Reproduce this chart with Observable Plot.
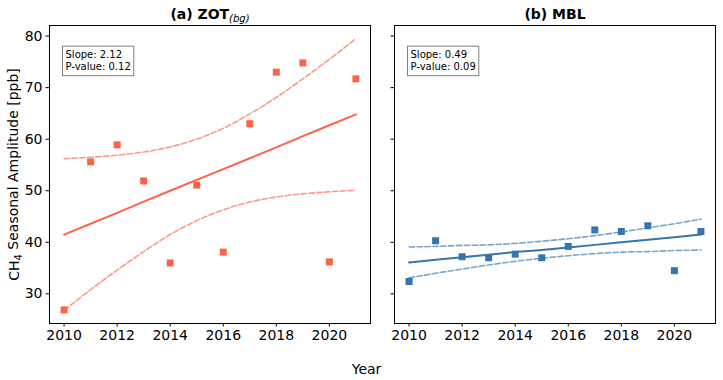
<!DOCTYPE html>
<html>
<head>
<meta charset="utf-8">
<script src="https://cdn.jsdelivr.net/npm/d3@7"></script>
<script src="https://cdn.jsdelivr.net/npm/@observablehq/plot@0.6"></script>
<style>
  body { margin: 0; background: white; }
  #wrap { display: flex; width: 723px; height: 380px; background: white; }
  svg { overflow: visible; }
</style>
</head>
<body>
<div id="wrap"></div>
<script>
// ---- data ----
const years = [2010, 2011, 2012, 2013, 2014, 2015, 2016, 2017, 2018, 2019, 2020, 2021];
const xTicks = [2010, 2012, 2014, 2016, 2018, 2020];
const yTicks = [30, 40, 50, 60, 70, 80];

const zotValues = [26.9, 55.6, 58.9, 51.9, 36.0, 51.1, 38.1, 63.0, 73.0, 74.8, 36.2, 71.7];
const zotFit    = [41.5, 43.6, 45.7, 47.9, 50.0, 52.1, 54.2, 56.3, 58.4, 60.6, 62.7, 64.8];
const zotUpper  = [56.2, 56.5, 56.9, 57.5, 58.5, 60.0, 62.1, 64.9, 68.1, 71.7, 75.5, 79.5];
const zotLower  = [26.8, 30.8, 34.6, 38.2, 41.5, 44.2, 46.3, 47.8, 48.8, 49.4, 49.8, 50.1];

const mblValues = [32.4, 40.3, 37.2, 37.0, 37.7, 37.0, 39.2, 42.4, 42.1, 43.2, 34.5, 42.1];
const mblFit    = [36.1, 36.6, 37.1, 37.6, 38.1, 38.5, 39.0, 39.5, 40.0, 40.5, 41.0, 41.5];
const mblUpper  = [39.1, 39.2, 39.4, 39.5, 39.8, 40.2, 40.7, 41.3, 42.0, 42.8, 43.6, 44.5];
const mblLower  = [33.1, 34.0, 34.8, 35.6, 36.3, 36.9, 37.4, 37.8, 38.1, 38.2, 38.4, 38.5];

const titles = ["(a) ZOT", "(b) MBL"];
const titleSub = "(bg)";
const statsText = ["Slope: 2.12\nP-value: 0.12", "Slope: 0.49\nP-value: 0.09"];
const yLabel = "CH4 Seasonal Amplitude [ppb]";
const xLabel = "Year";
const colors = ["#ff6347", "#3574ae"];

function panel(o) {
  const rows = years.map((yr, i) => ({year: yr, v: o.vals[i], fit: o.fit[i], up: o.up[i], lo: o.lo[i]}));
  const marks = [
    Plot.line(rows, {x: "year", y: "up", stroke: o.color, strokeOpacity: 0.65, strokeWidth: 1.6, strokeDasharray: "5.5,2.4", curve: "monotone-x"}),
    Plot.line(rows, {x: "year", y: "lo", stroke: o.color, strokeOpacity: 0.65, strokeWidth: 1.6, strokeDasharray: "5.5,2.4", curve: "monotone-x"}),
    Plot.line(rows, {x: "year", y: "fit", stroke: o.color, strokeWidth: 2}),
    Plot.dot(rows, {x: "year", y: "v", symbol: "square", r: 3.95, fill: o.color, stroke: "none"}),
    Plot.frame({stroke: "black", strokeWidth: 1}),
    Plot.text([o.title], {frameAnchor: "top", dy: -6.5, lineAnchor: "bottom", textAnchor: "middle", fontWeight: "bold", fontSize: 14, fill: "black"}),
    Plot.text([o.stats], {frameAnchor: "top-left", dx: 16, dy: 24.5, lineAnchor: "top", textAnchor: "start", fontSize: 10, lineHeight: 1.15, fill: "black"})
  ];
  if (o.showY) {
    marks.push(Plot.text([yLabel], {frameAnchor: "left", dx: -35, rotate: -90, textAnchor: "middle", lineAnchor: "middle", fontSize: 14, fill: "black"}));
    marks.push(Plot.text([xLabel], {frameAnchor: "bottom-right", dx: -4, dy: 50, lineAnchor: "bottom", textAnchor: "middle", fontSize: 14, fill: "black"}));
  }
  return Plot.plot({
    width: o.width, height: 380,
    marginTop: 25, marginBottom: 57, marginLeft: o.ml, marginRight: o.mr,
    style: {fontFamily: "DejaVu Sans", fontSize: "14px", color: "black", background: "white", overflow: "visible"},
    x: {domain: [2009.45, 2021.55], ticks: xTicks, tickFormat: d => String(d), tickSize: 3.5, tickPadding: 3.5, label: null},
    y: {domain: [24.25, 82.05], ticks: yTicks, tickSize: 3.5, tickPadding: 3.5, tickFormat: o.showY ? (d => String(d)) : (() => ""), label: null},
    marks
  });
}

const wrap = document.getElementById("wrap");
const left = panel({vals: zotValues, fit: zotFit, up: zotUpper, lo: zotLower, color: colors[0], title: titles[0], stats: statsText[0], showY: true, width: 382, ml: 49, mr: 12});
const right = panel({vals: mblValues, fit: mblFit, up: mblUpper, lo: mblLower, color: colors[1], title: titles[1], stats: statsText[1], showY: false, width: 341, ml: 12, mr: 8});
wrap.appendChild(left);
wrap.appendChild(right);

// post-process: subscripts and stats boxes
d3.select(left).selectAll("text").filter(function() { return this.textContent === titles[0]; })
  .each(function() {
    d3.select(this).append("tspan").attr("dy", "0.3em").attr("font-size", 10).attr("font-style", "italic").attr("font-weight", "normal").text(titleSub);
  });
d3.select(left).selectAll("text").filter(function() { return this.textContent === yLabel; })
  .each(function() {
    const t = d3.select(this);
    t.text("CH");
    t.append("tspan").attr("font-size", 10).attr("dy", "0.3em").text("4");
    t.append("tspan").attr("dy", "-0.3em").text(" Seasonal Amplitude [ppb]");
  });
[left, right].forEach((svg) => {
  d3.select(svg).selectAll("text").filter(function() { return this.textContent.startsWith("Slope"); })
    .each(function() {
      const bb = this.getBBox();
      const g = this.parentNode;
      const pad = 3;
      const r = d3.select(g).insert("rect", function() { return g.firstChild; })
        .attr("x", bb.x - pad).attr("y", bb.y - pad)
        .attr("width", bb.width + 2 * pad).attr("height", bb.height + 2 * pad + 1)
        .attr("fill", "white").attr("stroke", "#7f7f7f").attr("stroke-width", 1);
      const tr = this.getAttribute("transform");
      if (tr) r.attr("transform", tr);
    });
});
</script>
</body>
</html>
